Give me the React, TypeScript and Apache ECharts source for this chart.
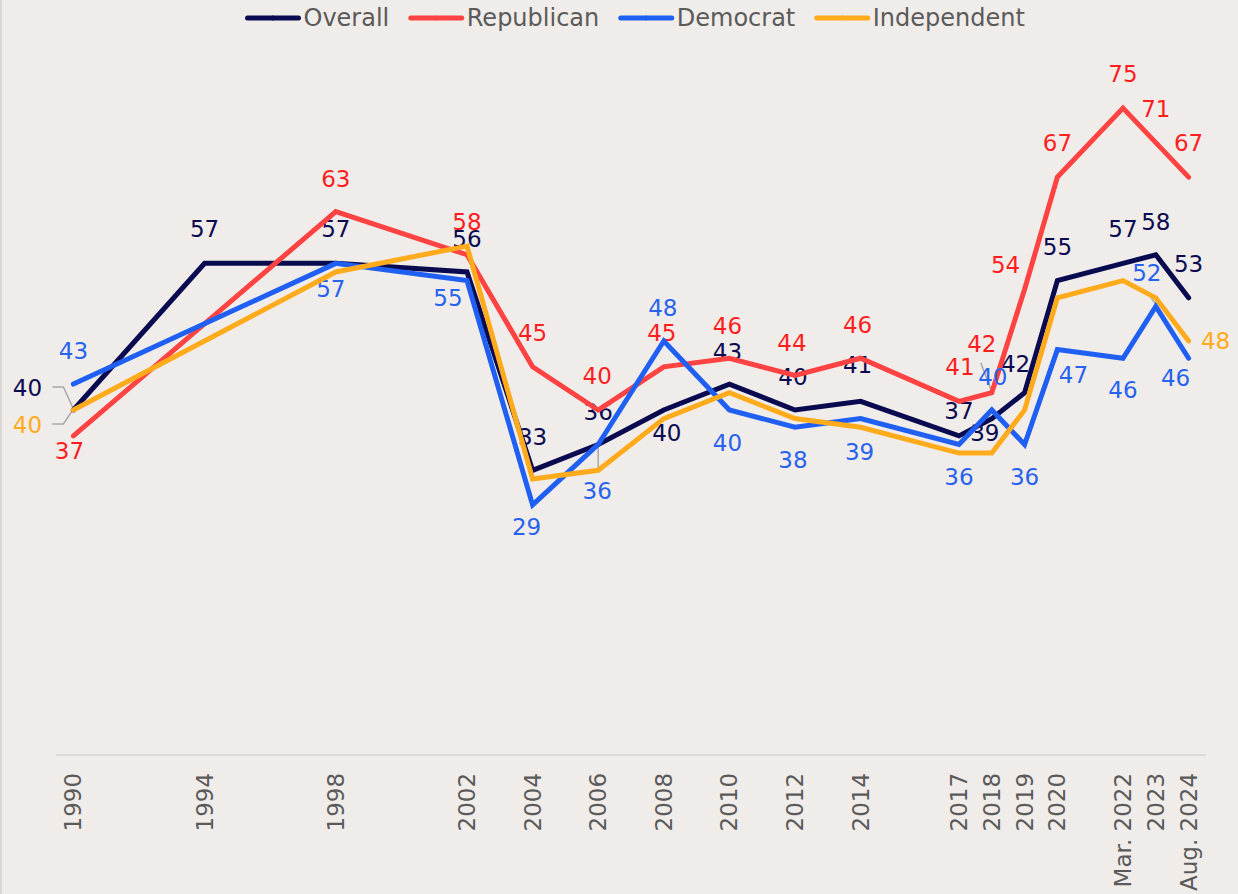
import { useEffect, useRef } from 'react';
import * as echarts from 'echarts';

// ---- Data ----
const tickLabels = ['1990', '1994', '1998', '2002', '2004', '2006', '2008', '2010', '2012', '2014', '2017', '2018', '2019', '2020', 'Mar. 2022', '2023', 'Aug. 2024'];
const surveyYears = [1990, 1994, 1998, 2002, 2004, 2006, 2008, 2010, 2012, 2014, 2017, 2018, 2019, 2020, 2022, 2023, 2024];
const overall = [40, 57, 57, 56, 33, 36, 40, 43, 40, 41, 37, 39, 42, 55, 57, 58, 53];
const republican = [37, null, 63, 58, 45, 40, 45, 46, 44, 46, 41, 42, 54, 67, 75, 71, 67];
const democrat = [43, null, 57, 55, 29, 36, 48, 40, 38, 39, 36, 40, 36, 47, 46, 52, 46];
const independent = [40, null, 56, 59, 32, 33, 39, 42, 39, 38, 35, 35, 40, 53, 55, 53, 48];
const seriesNames = ['Overall', 'Republican', 'Democrat', 'Independent'];

// ---- Label placement (offset of label centre from its point, px); null = no label ----
type Off = [number, number] | null;
const overallLabelOffsets: Off[] = [[-46, -22], [0, -34], [0, -34], [0, -33], [0, -33], [0, -32], [3, 23], [-2, -32], [-2, -33], [-3, -36], [0, -25], [-7, 14], [-9, -29], [0, -34], [0, -34], [0, -33], [0, -34]];
const republicanLabelOffsets: Off[] = [[-4, 15], null, [0, -33], [0, -33], [0, -34], [-1, -34], [-2, -34], [-2, -32], [-3, -32], [-3, -33], [1, -34], [-10, -49], [-19, -24], [0, -34], [0, -34], [0, -34], [0, -34]];
const democratLabelOffsets: Off[] = [[0, -33], null, [-5, 26], [-19, 17], [-6, 22], [-1, 47], [-1, -33], [-2, 33], [-2, 33], [-1, 33], [0, 33], [1, -33], [0, 33], [16, 25], [0, 32], [-9, -33], [-13, 20]];
const independentLabelOffsets: Off[] = [[-46, 15], null, null, null, null, null, null, null, null, null, null, null, null, null, null, null, [27, 0]];

const lineColors = ['#0a0a50', '#ff4343', '#1f60f2', '#ffab1c'];
const labelColors = ['#0a0a50', '#ff1f1f', '#2863ee', '#ffab1c'];

const FIRST_YEAR = 1990;
const LAST_YEAR = 2024;
const slotYears: number[] = [];
for (let y = FIRST_YEAR; y <= LAST_YEAR; y++) slotYears.push(y);

const FONT = '"DejaVu Sans", sans-serif';

// leader lines: relative to a data point
const leaders = [
  { s: 0, year: 1990, pts: [[-21, -23], [-10, -23], [0, -1], [-10, 14], [-21, 14]] },
  { s: 2, year: 2006, pts: [[0, 2], [0, 28]] },
  { s: 1, year: 2018, pts: [[-11, -30], [0, -1]] },
  { s: 2, year: 2023, pts: [[-8, -14], [0, -2]] },
];

const allValues = [overall, republican, democrat, independent];
const allOffsets = [overallLabelOffsets, republicanLabelOffsets, democratLabelOffsets, independentLabelOffsets];

function buildSeriesData(values: (number | null)[], offsets: Off[], color: string) {
  return slotYears.map((y) => {
    const i = surveyYears.indexOf(y);
    if (i < 0 || values[i] === null) return null;
    const off = offsets[i];
    return {
      value: values[i],
      label: off
        ? { show: true, position: 'inside', offset: off, color, fontSize: 23, fontFamily: FONT }
        : { show: false },
    };
  });
}

export default function App() {
  const ref = useRef<HTMLDivElement>(null);
  useEffect(() => {
    if (!ref.current) return;
    const chart = echarts.init(ref.current, undefined, { renderer: 'svg' });
    const series = seriesNames.map((name, k) => ({
      name,
      type: 'line',
      data: buildSeriesData(allValues[k], allOffsets[k], labelColors[k]),
      connectNulls: true,
      symbol: 'circle',
      symbolSize: 1,
      showSymbol: true,
      showAllSymbol: true,
      silent: true,
      emphasis: { disabled: true },
      itemStyle: { color: lineColors[k] },
      lineStyle: { color: lineColors[k], width: 5, cap: 'round', join: 'miter' },
      z: 2 + k,
    }));
    chart.setOption({
      animation: false,
      backgroundColor: '#f0ece9',
      textStyle: { fontFamily: FONT },
      legend: {
        top: 1,
        left: 240,
        itemWidth: 51,
        itemHeight: 6,
        itemGap: 19,
        textStyle: { fontSize: 24, color: '#5a5a5a', fontFamily: FONT },
        lineStyle: { width: 5, cap: 'round' },
        selectedMode: false,
        data: seriesNames,
      },
      grid: { left: 57, right: 33, top: 65, bottom: 139 },
      xAxis: {
        type: 'category',
        data: slotYears.map(String),
        boundaryGap: true,
        axisLine: { lineStyle: { color: '#dcd9d6', width: 2 } },
        axisTick: { show: false },
        splitLine: { show: false },
        axisLabel: {
          interval: 0,
          rotate: 90,
          margin: 18,
          fontSize: 23,
          color: '#5a5a5a',
          fontFamily: FONT,
          formatter: (v: string) => {
            const i = surveyYears.indexOf(Number(v));
            return i < 0 ? '' : tickLabels[i];
          },
        },
      },
      yAxis: { type: 'value', min: 0, max: 80, show: false, splitLine: { show: false } },
      series,
    });

    const graphics: any[] = [
      { type: 'rect', left: 0, top: 0, shape: { width: 2, height: 894 }, style: { fill: '#d9d6d3' }, silent: true },
    ];
    leaders.forEach((l) => {
      const slot = slotYears.indexOf(l.year);
      const idx = surveyYears.indexOf(l.year);
      const v = allValues[l.s][idx];
      const p = chart.convertToPixel({ gridIndex: 0 }, [slot, v as number]) as number[];
      graphics.push({
        type: 'polyline',
        shape: { points: l.pts.map(([dx, dy]) => [p[0] + dx, p[1] + dy]) },
        style: { stroke: '#a8a8a8', lineWidth: 1.5, fill: null },
        silent: true,
        z: 1,
      });
    });
    chart.setOption({ graphic: graphics });

    return () => chart.dispose();
  }, []);
  return (
    <div
      ref={ref}
      style={{ position: 'fixed', left: 0, top: 0, width: 1238, height: 894, background: '#f0ece9' }}
    />
  );
}
